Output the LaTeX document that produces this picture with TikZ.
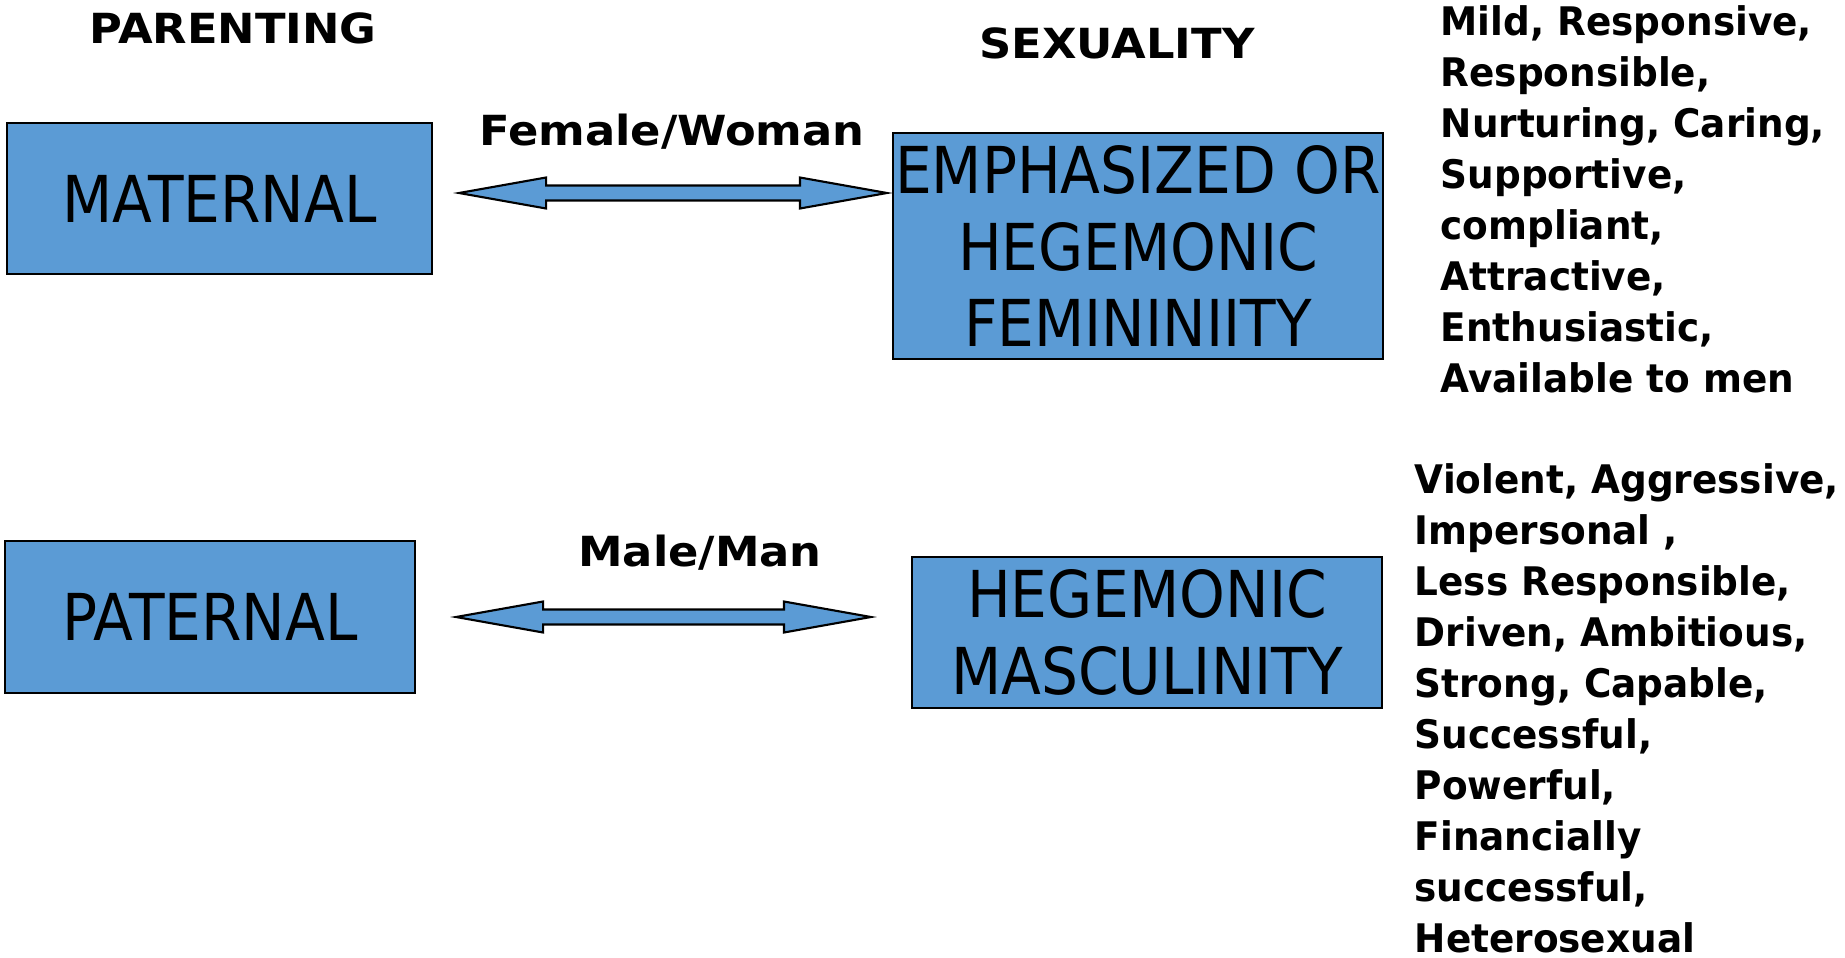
\documentclass[tikz,border=0pt]{standalone}
\usepackage{fontspec}
\setmainfont{DejaVu Sans}
\newfontfamily\boxfont{DejaVu Sans}[FakeStretch=0.9]
\newfontfamily\tagfont{DejaVu Sans}[FakeStretch=1.08]
\newfontfamily\listfont{DejaVu Sans}[FakeStretch=0.95]
\usepackage{xcolor}
\definecolor{boxBlue}{RGB}{91,155,213}
\usepackage{tikz}
\usetikzlibrary{calc, positioning}
\tikzset{fatArrow/.style={draw=black, fill=boxBlue, line width=0.6pt, line join=miter}}

\begin{document}
\begin{tikzpicture}[x=0.1mm, y=-0.1mm,
  roleBox/.style={draw=black, fill=boxBlue, line width=0.6pt, inner sep=0pt, align=center, font=\boxfont\fontsize{18.4}{21.8}\selectfont},
  tagText/.style={inner sep=0pt, font=\tagfont\bfseries\fontsize{11.8}{14.5}\selectfont},
  listText/.style={inner sep=0pt, align=left, font=\listfont\bfseries\fontsize{11.2}{14.5}\selectfont}]
\useasboundingbox (0,0) rectangle (1845,957);
% boxes
\node[roleBox, minimum width=42.5mm, minimum height=15.1mm] (maternal) at (219.5,198.5) {MATERNAL};
\node[roleBox, minimum width=49mm, minimum height=22.6mm] (femininity) at (1138,246) {EMPHASIZED OR\\HEGEMONIC\\FEMININIITY};
\node[roleBox, minimum width=41mm, minimum height=15.2mm] (paternal) at (210,617) {PATERNAL};
\node[roleBox, minimum width=47mm, minimum height=15.1mm] (masculinity) at (1147,632.5) {HEGEMONIC\\MASCULINITY};
% headings and labels
\node[tagText, anchor=base] (parenting) at (233,43) {PARENTING};
\node[tagText, anchor=base] (sexuality) at (1117,58) {SEXUALITY};
\node[tagText, anchor=base] (female) at (672,145) {Female/Woman};
\node[tagText, anchor=base] (male) at (700,566) {Male/Man};
% traits (base = last line)
\node[listText, anchor=base west] (femTraits) at (1440,392) {Mild, Responsive,\\Responsible,\\Nurturing, Caring,\\Supportive,\\compliant,\\Attractive,\\Enthusiastic,\\Available to men};
\node[listText, anchor=base west] (mascTraits) at (1414,952) {Violent, Aggressive,\\Impersonal ,\\Less Responsible,\\Driven, Ambitious,\\Strong, Capable,\\Successful,\\Powerful,\\Financially\\successful,\\Heterosexual};
% arrows
\coordinate (femL) at ($(maternal.east)+(26,-5.5)$);
\coordinate (femR) at ($(femininity.west)+(-5,-53)$);
\coordinate (maleL) at ($(paternal.east)+(40,0)$);
\coordinate (maleR) at ($(masculinity.west)+(-40,-15.5)$);
\foreach \l/\r in {femL/femR, maleL/maleR}
  \draw[fatArrow] (\l) -- ++(87,-15.5) -- ++(0,8) -- ($(\r)+(-87,-7.5)$) -- ++(0,-8) -- (\r)
    -- ++(-87,15.5) -- ++(0,-8) -- ($(\l)+(87,7.5)$) -- ++(0,8) -- cycle;
\end{tikzpicture}
\end{document}
